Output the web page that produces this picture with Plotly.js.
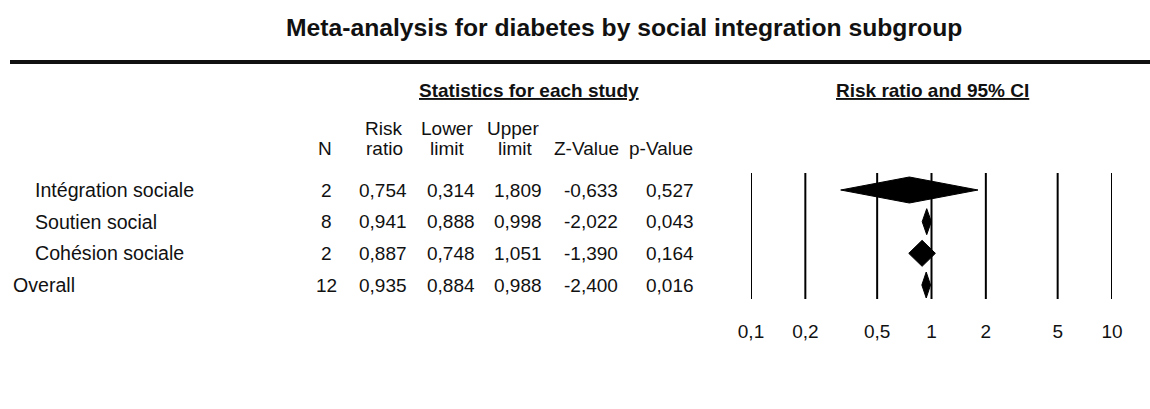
<!DOCTYPE html>
<html>
<head>
<meta charset="utf-8">
<script src="https://cdn.plot.ly/plotly-3.0.1.min.js"></script>
<style>html,body{margin:0;padding:0;background:#fff;}#chart{width:1150px;height:409px;}</style>
</head>
<body>
<div id="chart"></div>
<script>
// ---- data ----
const subgroups = ['Intégration sociale', 'Soutien social', 'Cohésion sociale', 'Overall'];
const nStudies  = [2, 8, 2, 12];
const riskRatio = [0.754, 0.941, 0.887, 0.935];
const lowerLim  = [0.314, 0.888, 0.748, 0.884];
const upperLim  = [1.809, 0.998, 1.051, 0.988];
const zValue    = [-0.633, -2.022, -1.390, -2.400];
const pValue    = [0.527, 0.043, 0.164, 0.016];
const tickVals  = [0.1, 0.2, 0.5, 1, 2, 5, 10];
const tickText  = ['0,1', '0,2', '0,5', '1', '2', '5', '10'];

// ---- layout helpers ----
const W = 1150, H = 409;
const FONT = 'Liberation Sans, Arial, sans-serif';
const rowPx0 = 190, rowStep = 31.67;   // pixel of first row, spacing
const plotBottom = 318;                // bottom of y plot area (axis line)
const r0 = -rowPx0 / rowStep;
const r1 = r0 + plotBottom / rowStep;
const px = x => x / W;
const py = y => 1 - y / H;
const rowOfPx = y => (y - rowPx0) / rowStep;
const fmt = v => v.toFixed(3).replace('.', ',');

// vertical reference lines (one per axis tick)
const lx = [], ly = [];
tickVals.forEach(v => { lx.push(v, v, null); ly.push(rowOfPx(173), rowOfPx(299), null); });

// diamonds
const half = 13 / rowStep;
const dx = [], dy = [];
subgroups.forEach((s, i) => {
  dx.push(lowerLim[i], riskRatio[i], upperLim[i], riskRatio[i], lowerLim[i], null);
  dy.push(i, i - half, i, i + half, i, null);
});

const traces = [
  {x: lx, y: ly, mode: 'lines', line: {color: '#000', width: 2}, hoverinfo: 'skip', showlegend: false},
  {x: dx, y: dy, mode: 'lines', fill: 'toself', fillcolor: '#000', line: {color: '#000', width: 1}, hoverinfo: 'skip', showlegend: false}
];

const ann = [];
const txt = (text, x, y, opts) => ann.push(Object.assign({
  text: text, x: x, y: y, xref: 'paper', yref: 'paper', showarrow: false,
  xanchor: 'center', yanchor: 'middle', font: {family: FONT, size: 19, color: '#111'}
}, opts || {}));

// title
txt('<b>Meta-analysis for diabetes by social integration subgroup</b>', px(624), py(28), {font: {family: FONT, size: 24.7, color: '#111'}});
// section headers
txt('<b><u>Statistics for each study</u></b>', px(529), py(91));
txt('<b><u>Risk ratio and 95% CI</u></b>', px(932), py(90));
// column headers
const colX = {n: 326, rr: 383, lo: 451, up: 518, z: 591, p: 670};
txt('N', px(325), py(149));
txt('Risk', px(383), py(129)); txt('ratio', px(384), py(149));
txt('Lower', px(447), py(129)); txt('limit', px(447), py(149));
txt('Upper', px(513), py(129)); txt('limit', px(515), py(149));
txt('Z-Value', px(586), py(149));
txt('p-Value', px(661), py(149));

// rows
subgroups.forEach((s, i) => {
  const base = {yref: 'y'};
  txt(s, px(i === subgroups.length - 1 ? 11 : 33), i,
      Object.assign({xanchor: 'left', font: {family: FONT, size: 19.6, color: '#111'}}, base));
  txt(String(nStudies[i]), px(colX.n), i, base);
  txt(fmt(riskRatio[i]), px(colX.rr), i, base);
  txt(fmt(lowerLim[i]), px(colX.lo), i, base);
  txt(fmt(upperLim[i]), px(colX.up), i, base);
  txt(fmt(zValue[i]), px(colX.z), i, base);
  txt(fmt(pValue[i]), px(colX.p), i, base);
});

const layout = {
  width: W, height: H,
  margin: {l: 0, r: 0, t: 0, b: 0},
  paper_bgcolor: '#fff', plot_bgcolor: 'rgba(0,0,0,0)',
  showlegend: false,
  xaxis: {
    type: 'log', range: [-1, 1], domain: [px(751), px(1112)],
    tickvals: tickVals, ticktext: tickText, ticks: '', showgrid: false, zeroline: false, showline: false,
    tickfont: {family: FONT, size: 19, color: '#111'}, anchor: 'y', fixedrange: true
  },
  yaxis: {
    range: [r1, r0], domain: [1 - plotBottom / H, 1],
    showgrid: false, zeroline: false, showline: false, showticklabels: false, ticks: '', fixedrange: true
  },
  annotations: ann,
  shapes: [
    {type: 'line', xref: 'paper', yref: 'paper', x0: px(10), x1: 1, y0: py(62), y1: py(62), line: {color: '#111', width: 4}}
  ]
};

Plotly.newPlot('chart', traces, layout, {displayModeBar: false, staticPlot: true});
</script>
</body>
</html>
